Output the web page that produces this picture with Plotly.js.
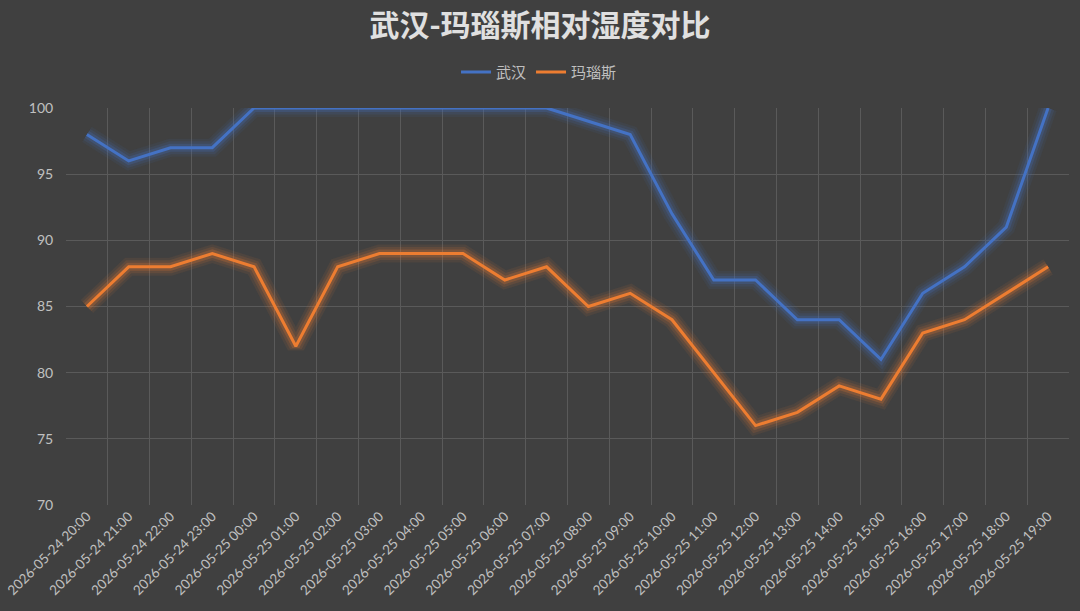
<!DOCTYPE html>
<html><head><meta charset="utf-8">
<script src="https://cdn.plot.ly/plotly-3.0.1.min.js"></script>
<style>html,body{margin:0;padding:0;background:#404040;}#chart{width:1080px;height:611px;}</style>
</head><body><div id="chart"></div>
<script>
const categories = ["2026-05-24 20:00","2026-05-24 21:00","2026-05-24 22:00","2026-05-24 23:00","2026-05-25 00:00","2026-05-25 01:00","2026-05-25 02:00","2026-05-25 03:00","2026-05-25 04:00","2026-05-25 05:00","2026-05-25 06:00","2026-05-25 07:00","2026-05-25 08:00","2026-05-25 09:00","2026-05-25 10:00","2026-05-25 11:00","2026-05-25 12:00","2026-05-25 13:00","2026-05-25 14:00","2026-05-25 15:00","2026-05-25 16:00","2026-05-25 17:00","2026-05-25 18:00","2026-05-25 19:00"];
const wuhan = [98,96,97,97,100,100,100,100,100,100,100,100,99,98,92,87,87,84,84,81,86,88,91,100];
const manaus = [85,88,88,89,88,82,88,89,89,89,87,88,85,86,84,80,76,77,79,78,83,84,86,88];
const seriesNames = ["武汉","玛瑙斯"];
const colors = ["#4472C4","#ED7D31"];
const glowRGB = ["68,114,196","237,125,49"];

const traces = [];
[wuhan, manaus].forEach((vals,i)=>{
  [[18,0.08],[13,0.12],[8,0.22]].forEach(([w,a])=>{
    traces.push({x:categories,y:vals,type:"scatter",mode:"lines",line:{color:"rgba("+glowRGB[i]+","+a+")",width:w},showlegend:false,hoverinfo:"skip"});
  });
});
[wuhan, manaus].forEach((vals,i)=>{
  traces.push({x:categories,y:vals,type:"scatter",mode:"lines",name:seriesNames[i],line:{color:colors[i],width:3}});
});

const layout = {
  width:1080,height:611,
  paper_bgcolor:"#404040",plot_bgcolor:"#404040",
  margin:{l:66,r:11,t:108,b:106},
  font:{family:"Lato, 'Noto Sans CJK SC', sans-serif",color:"#bfbfbf",size:13},
  title:{text:"<b>武汉-玛瑙斯相对湿度对比</b>",x:0.5,xanchor:"center",y:0.958,yanchor:"middle",
    font:{family:"'Noto Sans CJK SC', sans-serif",size:30,color:"#e0e0e0"}},
  showlegend:true,
  legend:{orientation:"h",x:0.4716,xanchor:"center",y:1.09,yanchor:"middle",
    font:{family:"'Noto Sans CJK SC', sans-serif",size:15,color:"#bfbfbf"},traceorder:"normal"},
  xaxis:{type:"category",tickmode:"linear",tick0:0,dtick:1,tickangle:-45,tickson:"boundaries",showgrid:true,gridcolor:"#5a5a5a",gridwidth:1,
    ticks:"",showline:false,zeroline:false,tickfont:{size:13.5,color:"#c0c0c0"},range:[-0.5,23.5],automargin:false},
  yaxis:{range:[70,100],dtick:5,showgrid:true,gridcolor:"#5a5a5a",gridwidth:1,zeroline:false,showline:false,
    ticks:"outside",ticklen:9,tickcolor:"rgba(0,0,0,0)",tickfont:{size:14,color:"#c0c0c0"}},
  hovermode:false
};
Plotly.newPlot("chart",traces,layout,{displayModeBar:false,staticPlot:true});
</script></body></html>
